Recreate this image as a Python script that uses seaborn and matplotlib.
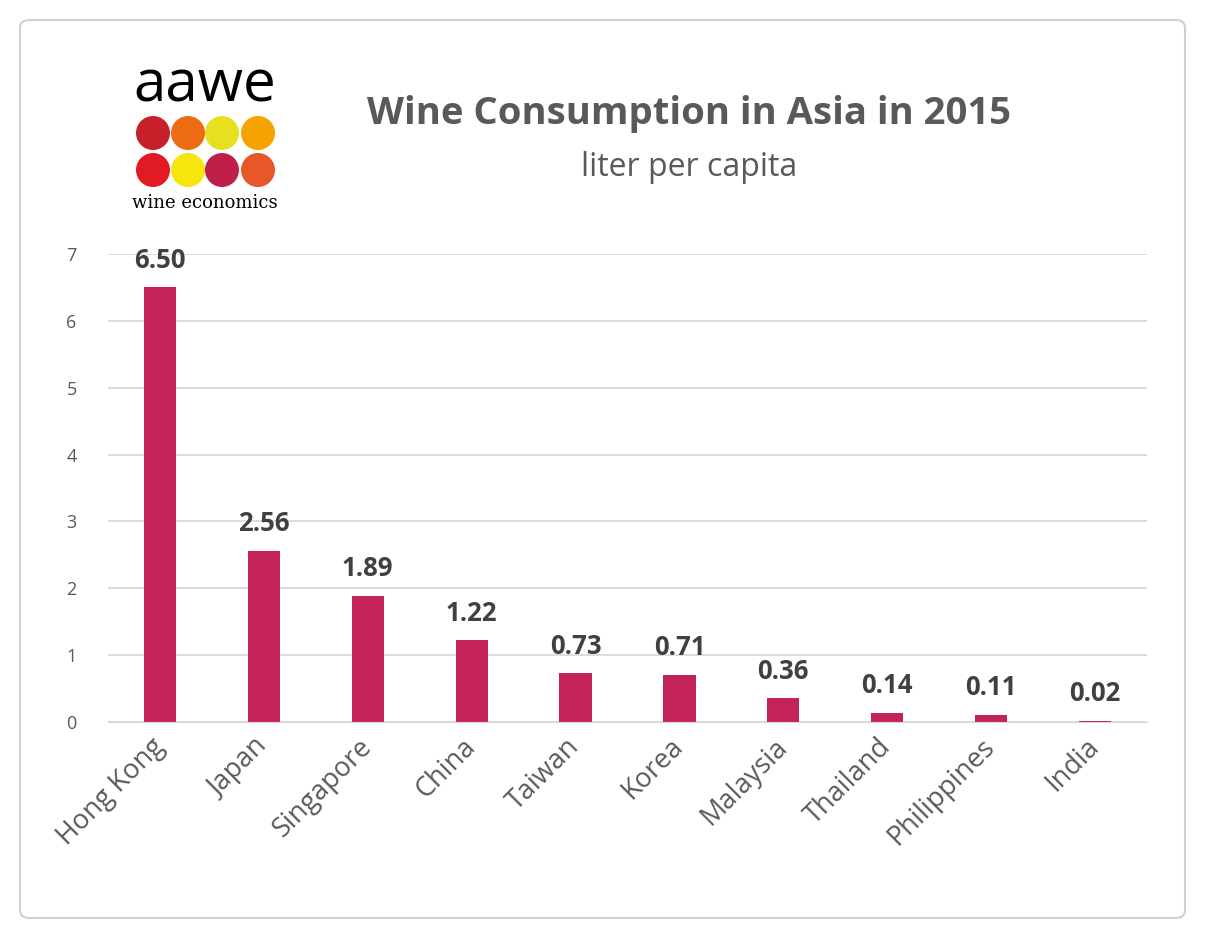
import matplotlib
matplotlib.use("Agg")
import matplotlib.pyplot as plt
import matplotlib.transforms as mtransforms
import seaborn as sns
import pandas as pd
from matplotlib.patches import FancyBboxPatch, Ellipse

countries = ["Hong Kong", "Japan", "Singapore", "China", "Taiwan", "Korea",
             "Malaysia", "Thailand", "Philippines", "India"]
values = [6.50, 2.56, 1.89, 1.22, 0.73, 0.71, 0.36, 0.14, 0.11, 0.02]
yticks = [0, 1, 2, 3, 4, 5, 6, 7]
logo_colors = ["#C8202A", "#EC6B13", "#E6E021", "#F5A300",
               "#E01B24", "#F6E60B", "#C01F4A", "#E8572A"]

plt.rcParams["font.family"] = "Open Sans"
W, H = 1205, 938
fig = plt.figure(figsize=(W/100, H/100), dpi=100)
fig.patch.set_facecolor("white")
fig.patches.append(FancyBboxPatch((20/W, 20/H), 1165/W, 898/H,
    boxstyle="round,pad=0,rounding_size=0.008", transform=fig.transFigure,
    facecolor="none", edgecolor="#D0D0D0", linewidth=1.5, zorder=-1))

ax = fig.add_axes([108/W, 1-722/H, (1147-108)/W, (722-254)/H])
ax.patch.set_alpha(0)
df = pd.DataFrame({"country": countries, "value": values})
sns.barplot(data=df, x="country", y="value", color="#C2245A", saturation=1,
            width=0.31, ax=ax)
ax.set_ylim(0, 7)
ax.set_xlim(-0.5, 9.5)
ax.set_yticks(yticks)
ax.set_yticklabels([str(t) for t in yticks], fontsize=13, color="#595959")
ax.grid(axis="y", color="#D9D9D9", linewidth=1.3)
ax.set_axisbelow(True)
for s in ax.spines.values():
    s.set_visible(False)
ax.spines["bottom"].set_visible(True)
ax.spines["bottom"].set_color("#D9D9D9")
ax.set_xlabel("")
ax.set_ylabel("")
ax.set_xticks(range(len(countries)))
ax.set_xticklabels(countries, rotation=45, ha="right", rotation_mode="anchor",
                   fontsize=19.5, color="#595959")
ax.tick_params(length=0)
ax.tick_params(axis="x", pad=10)
ax.tick_params(axis="y", pad=30)
off = mtransforms.ScaledTranslation(-0.1, 0.03, fig.dpi_scale_trans)
for lbl in ax.get_xticklabels():
    lbl.set_transform(lbl.get_transform() + off)
for lbl in ax.get_yticklabels():
    lbl.set_horizontalalignment("left")
for i, v in enumerate(values):
    ax.text(i, v + 0.2, f"{v:.2f}", ha="center", va="bottom", fontsize=18.5,
            fontweight="bold", color="#404040")

fig.text(689/W, 1-114/H, "Wine Consumption in Asia in 2015", ha="center",
         va="center", fontsize=27.5, fontweight="bold", color="#595959")
fig.text(689/W, 1-167/H, "liter per capita", ha="center", va="center",
         fontsize=23, color="#595959")

# logo
fig.text(205/W, 1-86/H, "aawe", ha="center", va="center", fontsize=42,
         color="black")
xs = [153, 188, 222, 258]
ys = [133, 170]
for k, c in enumerate(logo_colors):
    x = xs[k % 4]; y = ys[k // 4]
    fig.patches.append(Ellipse((x/W, 1-y/H), 34/W, 34/H,
                       transform=fig.transFigure, facecolor=c, edgecolor="none"))
fig.text(205/W, 1-203/H, "wine economics", ha="center", va="center",
         fontsize=13, family="DejaVu Serif", color="black")

fig.savefig("out.png", dpi=100)
